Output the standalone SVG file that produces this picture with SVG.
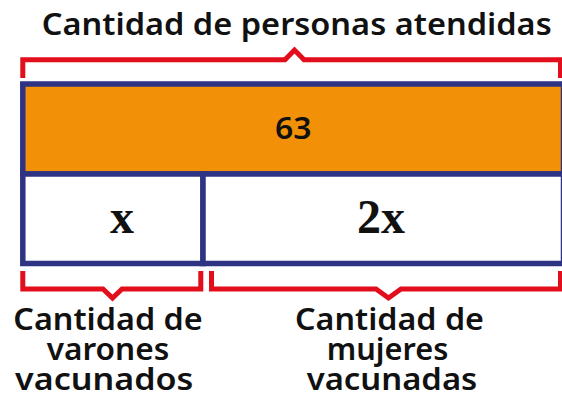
<svg xmlns="http://www.w3.org/2000/svg" width="562" height="395" viewBox="0 0 562 395">
  <style>
    .lbl { font-family: "Noto Sans", "Open Sans", sans-serif; font-weight: 600; font-size: 30px; fill: #111; text-anchor: middle; }
    .math { font-family: "Liberation Serif", "Times New Roman", serif; font-weight: bold; font-size: 48px; fill: #111; text-anchor: middle; }
    .cell { stroke: #2E3383; stroke-width: 5.5; }
    .brace { fill: none; stroke: #E30E1B; stroke-width: 5; stroke-linejoin: miter; }
  </style>
  <rect width="562" height="395" fill="#ffffff"/>

  <g id="title">
    <text class="lbl" x="296.7" y="35" font-size="31" textLength="510" lengthAdjust="spacingAndGlyphs">Cantidad de personas atendidas</text>
  </g>

  <g id="total">
    <rect class="cell" x="22.8" y="84" width="540.7" height="90" fill="#F29108"/>
    <text class="lbl" x="293.3" y="139" font-size="31" font-weight="700" textLength="36.5" lengthAdjust="spacingAndGlyphs">63</text>
  </g>

  <g id="varones">
    <rect class="cell" x="22.8" y="174" width="180.2" height="89.5" fill="#ffffff"/>
    <text class="math" x="122" y="233">x</text>
  </g>

  <g id="mujeres">
    <rect class="cell" x="203" y="174" width="360.5" height="89.5" fill="#ffffff"/>
    <text class="math" x="381" y="233">2x</text>
  </g>

  <g id="connectors">
    <path class="brace" d="M22.8,78 V59.8 H285 L294.5,50 L304,59.8 H560.5 V78"/>
    <path class="brace" d="M22.8,271 V289 H103 L112.5,298 L122,289 H200.8 V271"/>
    <path class="brace" d="M211.5,271 V289 H376 L388.5,298 L401,289 H560.5 V271"/>
  </g>

  <g id="label-varones">
    <text class="lbl" x="108" y="330" textLength="189.4" lengthAdjust="spacingAndGlyphs">Cantidad de</text>
    <text class="lbl" x="108" y="360" textLength="122.6" lengthAdjust="spacingAndGlyphs">varones</text>
    <text class="lbl" x="104.2" y="390" textLength="178.3" lengthAdjust="spacingAndGlyphs">vacunados</text>
  </g>

  <g id="label-mujeres">
    <text class="lbl" x="389.5" y="330" textLength="189" lengthAdjust="spacingAndGlyphs">Cantidad de</text>
    <text class="lbl" x="387.5" y="360" textLength="121.6" lengthAdjust="spacingAndGlyphs">mujeres</text>
    <text class="lbl" x="392" y="390" textLength="170.6" lengthAdjust="spacingAndGlyphs">vacunadas</text>
  </g>
</svg>
